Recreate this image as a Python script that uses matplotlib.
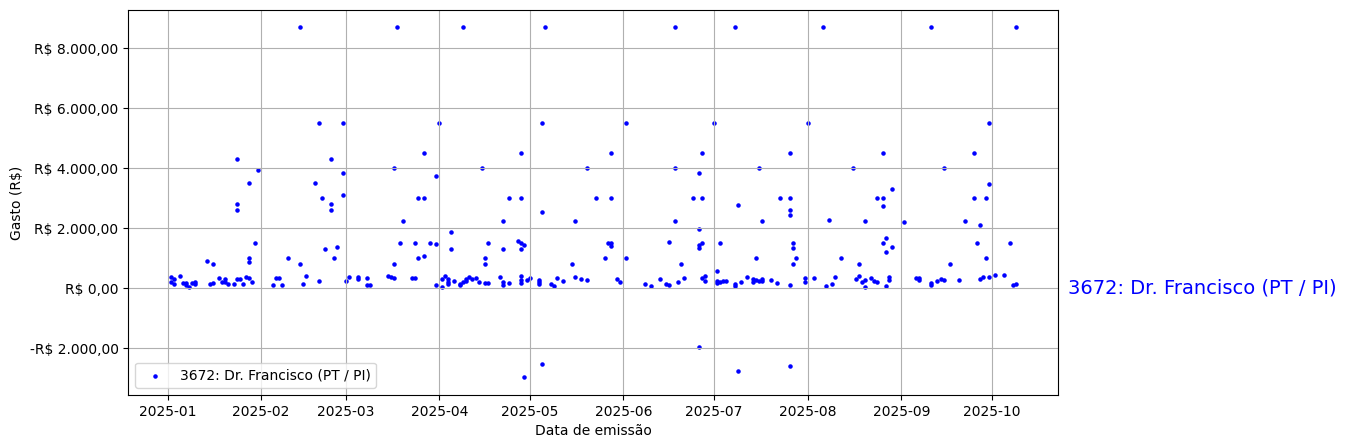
#!/usr/bin/env python3
"""Gastos por data de emissão - 3672: Dr. Francisco (PT / PI)."""
import matplotlib
matplotlib.use("Agg")
import matplotlib.pyplot as plt
import matplotlib.ticker as mticker
import matplotlib.transforms as mtransforms
import pandas as pd

NOME = "3672: Dr. Francisco (PT / PI)"
ANO = 2025

# dia do mês e gasto (R$), um par de listas por mês
dias_jan = [2, 2, 3, 3, 5, 6, 7, 7, 8, 9, 10, 10, 14, 15, 16, 16, 18, 19, 20, 20, 21, 23,
            24, 24, 24, 24, 25, 26, 27, 28, 28, 28, 28, 29, 30, 31]
gastos_jan = [367, 200, 289, 144, 400, 156, 178, 89, 33, 178, 211, 144, 900, 122, 789, 178,
              322, 189, 289, 211, 122, 122, 289, 4290, 2790, 2590, 300, 122, 367, 333, 3490,
              989, 856, 189, 1490, 3950]

dias_fev = [5, 6, 7, 8, 10, 14, 14, 15, 16, 19, 20, 20, 21, 22, 24, 24, 24, 25, 26, 28, 28, 28]
gastos_fev = [89, 322, 322, 89, 989, 8700, 789, 122, 389, 3490, 5490, 222, 2990, 1290, 4290,
              2790, 2590, 989, 1356, 5490, 3820, 3090]

dias_mar = [1, 2, 5, 5, 8, 8, 9, 15, 16, 17, 17, 17, 18, 19, 20, 23, 24, 24, 25, 25, 27, 27,
            27, 29, 31, 31, 31]
gastos_mar = [222, 356, 356, 289, 322, 89, 89, 389, 356, 322, 3990, 789, 8700, 1490, 2220, 322,
              322, 1490, 2990, 989, 4490, 2990, 1056, 1490, 3730, 1456, 89]

dias_abr = [1, 2, 2, 3, 4, 4, 4, 5, 5, 6, 8, 8, 9, 9, 10, 10, 11, 12, 13, 14, 15, 16, 16, 16,
            17, 17, 21, 22, 22, 22, 22, 24, 24, 27, 28, 28, 28, 28, 28, 28, 28, 29, 29, 30]
gastos_abr = [5490, 22, 289, 389, 289, 211, 144, 1856, 1289, 222, 89, 144, 8700, 189, 222, 289,
              356, 289, 322, 189, 3990, 989, 789, 156, 1490, 156, 356, 2220, 189, 1289, 89,
              2990, 156, 1567, 1511, 4490, 2990, 1289, 389, 256, 156, 1422, -2980, 256]

dias_mai = [1, 4, 4, 4, 5, 5, 5, 6, 8, 9, 10, 12, 15, 16, 16, 18, 20, 20, 23, 26, 27, 28, 28,
            28, 28, 30, 31]
gastos_mai = [322, 256, 189, 122, 5490, 2520, -2550, 8700, 122, 56, 322, 222, 789, 2220, 356,
              289, 256, 3990, 2990, 989, 1490, 1490, 1389, 4490, 2990, 289, 189]

dias_jun = [2, 2, 8, 10, 13, 15, 16, 16, 18, 18, 18, 19, 20, 21, 24, 26, 26, 26, 26, 26, 27,
            27, 27, 27, 28, 28]
gastos_jun = [5490, 989, 122, 56, 289, 122, 89, 1522, 8700, 3990, 2220, 189, 789, 322, 2990,
              1956, -1980, 3820, 1422, 1322, 4490, 2990, 1490, 322, 389, 222]

dias_jul = [1, 2, 2, 2, 3, 3, 4, 5, 8, 8, 8, 9, 9, 10, 12, 14, 14, 15, 15, 16, 16, 17, 17, 17,
            20, 22, 23, 26, 26, 26, 26, 26, 26, 27, 27, 27, 28, 31, 31]
gastos_jul = [5490, 556, 222, 156, 1490, 189, 222, 222, 8700, 122, 56, 2756, -2780, 189, 356,
              289, 189, 989, 256, 3990, 222, 2220, 289, 222, 256, 156, 2990, 4490, 2990, 2590,
              2420, 89, -2610, 1490, 1322, 789, 989, 322, 189]

dias_ago = [1, 3, 6, 7, 8, 9, 10, 12, 16, 17, 18, 18, 19, 20, 20, 20, 22, 23, 24, 24, 26, 26,
            26, 26, 27, 27, 27, 28, 28, 29, 29]
gastos_ago = [5490, 322, 8700, 56, 2256, 122, 356, 989, 3990, 289, 389, 789, 189, 2220, 256, 22,
              322, 222, 189, 2990, 4490, 2990, 2722, 1490, 1656, 1189, 56, 356, 256, 3290, 1356]

dias_set = [2, 6, 7, 7, 11, 11, 11, 13, 14, 15, 15, 17, 20, 22, 25, 25, 26, 27, 27, 28, 29, 29,
            30, 30, 30]
gastos_set = [2190, 322, 322, 256, 8700, 156, 89, 222, 289, 256, 3990, 789, 256, 2220, 4490,
              2990, 1490, 2090, 289, 356, 2990, 989, 5490, 3456, 356]

dias_out = [2, 5, 7, 8, 9, 9]
gastos_out = [422, 422, 1490, 89, 8700, 122]

MESES = [dias_jan, dias_fev, dias_mar, dias_abr, dias_mai, dias_jun,
         dias_jul, dias_ago, dias_set, dias_out]
GASTOS = [gastos_jan, gastos_fev, gastos_mar, gastos_abr, gastos_mai, gastos_jun,
          gastos_jul, gastos_ago, gastos_set, gastos_out]


def brl(v, _pos=None):
    s = f"{abs(v):,.2f}".replace(",", "X").replace(".", ",").replace("X", ".")
    return f"-R$ {s}" if v < 0 else f"R$ {s}"


def main():
    linhas = []
    for mes, (dias, gastos) in enumerate(zip(MESES, GASTOS), start=1):
        for d, g in zip(dias, gastos):
            linhas.append((pd.Timestamp(ANO, mes, d), g))
    df = pd.DataFrame(linhas, columns=["data_emissao", "valor"])

    fig, ax = plt.subplots(figsize=(12, 5))
    ax.scatter(df["data_emissao"], df["valor"], s=5, color="blue", label=NOME)
    ax.yaxis.set_major_formatter(mticker.FuncFormatter(brl))
    ax.set_xlabel("Data de emissão")
    ax.set_ylabel("Gasto (R$)")
    ax.grid(True)
    ax.legend(loc="lower left")

    trans = mtransforms.blended_transform_factory(ax.transAxes, ax.transData)
    ax.text(1.01, 0, NOME, transform=trans, color="blue", fontsize=14, va="center")

    fig.savefig("out.png", dpi=100, bbox_inches="tight")
    plt.close(fig)


if __name__ == "__main__":
    main()
